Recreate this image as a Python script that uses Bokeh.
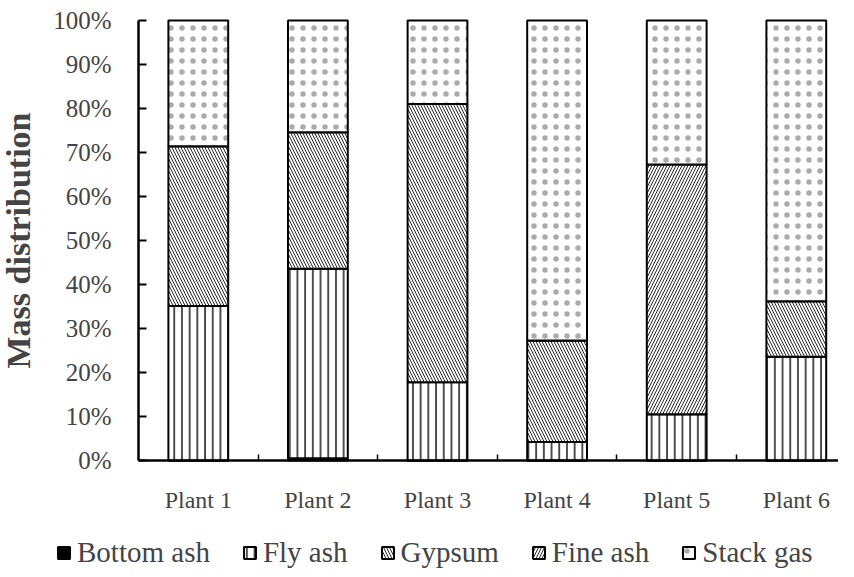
from bokeh.plotting import figure
from bokeh.models import (Range1d, FixedTicker, Legend, LegendItem,
                          ColumnDataSource)
from bokeh.embed import file_html
from bokeh.resources import INLINE

# ---- data (percent of mass) ----
plants = ["Plant 1", "Plant 2", "Plant 3", "Plant 4", "Plant 5", "Plant 6"]
bottom_ash = [0.0, 0.5, 0.0, 0.0, 0.0, 0.0]
fly_ash = [35.1, 43.1, 17.8, 4.2, 10.5, 23.6]
gypsum = [36.3, 31.0, 63.2, 23.1, 0.0, 12.6]
fine_ash = [0.0, 0.0, 0.0, 0.0, 56.8, 0.0]
stack_gas = [28.6, 25.4, 19.0, 72.7, 32.7, 63.8]
series_names = ["Bottom ash", "Fly ash", "Gypsum", "Fine ash", "Stack gas"]
y_ticks = [0, 10, 20, 30, 40, 50, 60, 70, 80, 90, 100]

FONT = "Liberation Serif"
keys = ["bottom_ash", "fly_ash", "gypsum", "fine_ash", "stack_gas"]

x_centers = [i + 0.5 for i in range(len(plants))]
boundaries = [i for i in range(1, len(plants))]

# frame covers the whole figure; axes are pinned at data zero
FIG_W, FIG_H = 838, 572
LEFT_PX, TOP_PX, ZERO_PX = 138, 20, 460
PX_PER_CAT = 119.6
PX_PER_PCT = (ZERO_PX - TOP_PX) / 100.0
x_start = -LEFT_PX / PX_PER_CAT
x_end = (FIG_W - LEFT_PX) / PX_PER_CAT
y_end = 100 + TOP_PX / PX_PER_PCT
y_start = -(FIG_H - ZERO_PX) / PX_PER_PCT

source = ColumnDataSource(dict(
    x=x_centers, bottom_ash=bottom_ash, fly_ash=fly_ash, gypsum=gypsum,
    fine_ash=fine_ash, stack_gas=stack_gas))

p = figure(width=FIG_W, height=FIG_H, output_backend="svg", toolbar_location=None,
           x_range=Range1d(x_start, x_end), y_range=Range1d(y_start, y_end),
           min_border_left=0, min_border_right=0, min_border_top=0,
           min_border_bottom=0)
p.outline_line_color = None
p.xgrid.visible = False
p.ygrid.visible = False

renderers = p.vbar_stack(
    keys, x="x", width=0.5, source=source,
    fill_color=["black", "white", "white", "white", "white"],
    line_color="black", line_width=2,
    hatch_pattern=["blank", "vertical_line", "left_diagonal_line",
                   "right_diagonal_line", "dot"],
    hatch_scale=[8, 7.7, 6, 6, 11],
    hatch_weight=[1, 1.6, 1.0, 1.0, 1],
    hatch_color=["#262626", "#262626", "#262626", "#262626", "#ababab"],
)

# y axis
ya = p.yaxis[0]
ya.fixed_location = 0
ya.bounds = (0, 100)
ya.ticker = FixedTicker(ticks=y_ticks)
ya.major_label_overrides = {t: f"{t}%" for t in y_ticks}
ya.major_label_text_font = FONT
ya.major_label_text_font_size = "25px"
ya.major_label_standoff = 27
ya.major_tick_in = 8
ya.major_tick_out = 0
ya.major_tick_line_width = 2
ya.minor_tick_line_color = None
ya.axis_line_width = 2.5
ya.axis_label = "Mass distribution"
ya.axis_label_text_font = FONT
ya.axis_label_text_font_style = "bold"
ya.axis_label_text_font_size = "34px"
ya.axis_label_standoff = 13

# x axis
xa = p.xaxis[0]
xa.fixed_location = 0
xa.bounds = (0, x_end)
xa.ticker = FixedTicker(ticks=x_centers, minor_ticks=boundaries)
xa.major_label_overrides = {c: n for c, n in zip(x_centers, plants)}
xa.major_label_text_font = FONT
xa.major_label_text_font_size = "24px"
xa.major_label_standoff = 20
xa.major_tick_line_color = None
xa.minor_tick_in = 6
xa.minor_tick_out = 0
xa.minor_tick_line_width = 1.5
xa.axis_line_width = 2.5

legend = Legend(items=[LegendItem(label=n, renderers=[r])
                       for n, r in zip(series_names, renderers)],
                orientation="horizontal", location=(56, 3),
                padding=0, margin=0, spacing=32, label_standoff=6,
                glyph_width=15, glyph_height=15,
                label_text_font=FONT, label_text_font_size="29px",
                border_line_color=None, background_fill_alpha=0)
p.add_layout(legend, "center")

open("out.html", "w").write(file_html(p, INLINE))
